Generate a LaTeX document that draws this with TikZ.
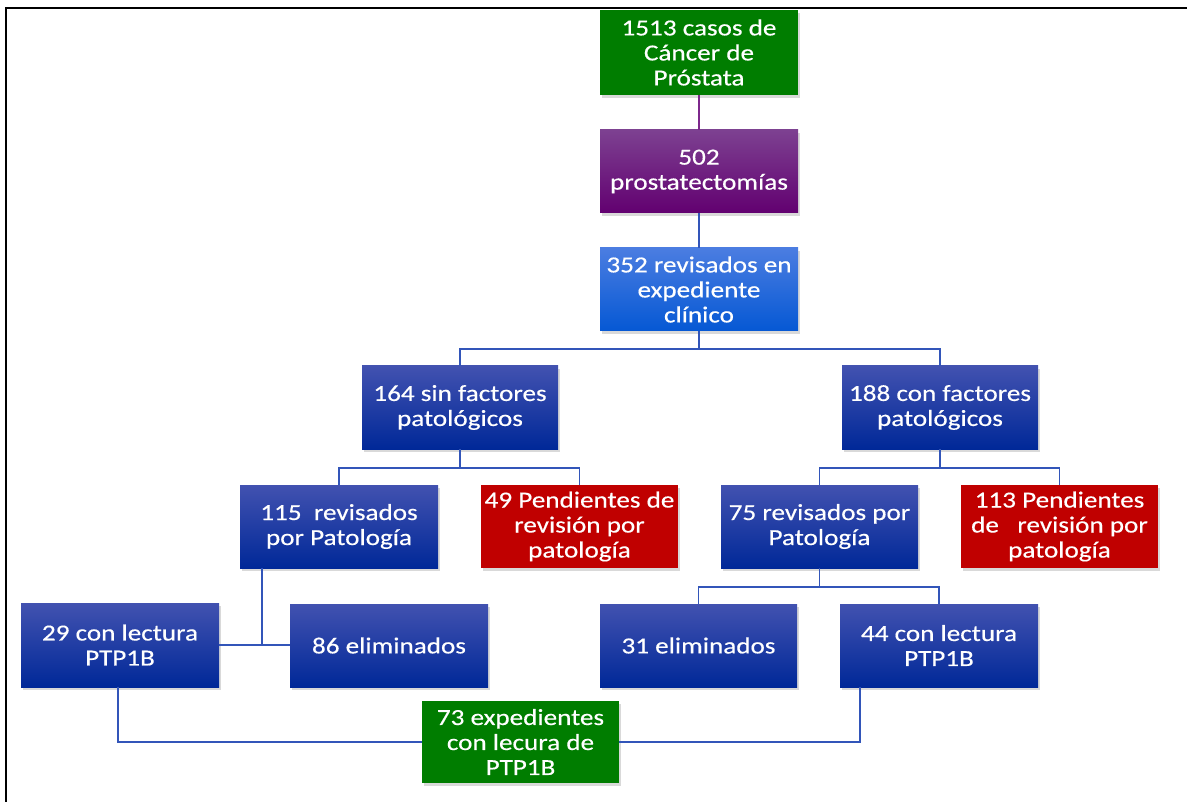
\documentclass[tikz,border=0pt]{standalone}
\usepackage{fontspec}
\newfontfamily\boxfont{Carlito}[FakeStretch=1.18, FakeBold=0.4]
\usetikzlibrary{shadows}
\definecolor{grn}{RGB}{0,125,0}
\definecolor{redbox}{RGB}{192,0,0}
\definecolor{purtop}{RGB}{125,65,145}
\definecolor{purbot}{RGB}{98,0,112}
\definecolor{ltop}{RGB}{75,125,225}
\definecolor{lbot}{RGB}{5,88,212}
\definecolor{dtop}{RGB}{66,82,176}
\definecolor{dmid}{RGB}{12,42,160}
\definecolor{dbot}{RGB}{0,40,152}
\definecolor{conn}{RGB}{50,85,185}
\definecolor{connp}{RGB}{125,40,140}
\tikzset{
  box/.style={minimum width=198pt, minimum height=83pt, inner sep=0pt, align=center,
    text=white, font=\boxfont\fontsize{23}{25}\selectfont,
    drop shadow={opacity=0.3, shadow xshift=2pt, shadow yshift=-3pt}},
  greenbox/.style={box, fill=grn},
  redb/.style={box, fill=redbox},
  purbox/.style={box, top color=purtop, bottom color=purbot},
  lightbox/.style={box, top color=ltop, bottom color=lbot},
  darkbox/.style={box, top color=dtop, middle color=dmid, bottom color=dbot},
  link/.style={draw=conn, line width=1.5pt},
}
\begin{document}
\begin{tikzpicture}[x=1pt,y=-1pt]
\useasboundingbox (0,0) rectangle (1187,802);
\draw[line width=2.5pt, line cap=rect] (6,802) -- (6,8) -- (1187,8);

\node[greenbox, minimum height=85pt] (b1) at (699,52.5) {1513 casos de\\Cáncer de\\Próstata};
\node[purbox] (b2) at (699,171.5) {502\\prostatectomías};
\node[lightbox] (b3) at (699,289.5) {352 revisados en\\expediente\\clínico};
\node[darkbox, minimum width=196pt] (b4) at (460,407.5) {164 sin factores\\patológicos};
\node[darkbox, minimum width=196pt] (b5) at (940,407.5) {188 con factores\\patológicos};
\node[darkbox] (b6) at (339,526.5) {115\ \ revisados\\por Patología};
\node[redb, minimum width=197pt] (b7) at (579.5,526.5) {49 Pendientes de\\revisión por\\patología};
\node[darkbox, minimum width=197pt] (b8) at (819.5,526.5) {75 revisados por\\Patología};
\node[redb, minimum width=197pt] (b9) at (1059.5,526.5) {113 Pendientes\\de\ \ \ revisión por\\patología};
\node[darkbox, minimum height=84pt] (b10) at (120,645) {29 con lectura\\PTP1B};
\node[darkbox] (b11) at (389,645.5) {86 eliminados};
\node[darkbox, minimum width=197pt] (b12) at (698.5,645.5) {31 eliminados};
\node[darkbox] (b13) at (939,645.5) {44 con lectura\\PTP1B};
\node[greenbox, minimum width=197pt, minimum height=82pt] (b14) at (520.5,742) {73 expedientes\\con lecura de\\PTP1B};

\coordinate (j3) at (699,349);
\coordinate (j4) at (460,468);
\coordinate (j5) at (940,468);
\coordinate (j6) at (262,645);
\coordinate (j8) at (819.5,587);
\coordinate (j10) at (118,742);
\coordinate (j13) at (860,742);

\draw[draw=connp, line width=1.5pt] (b1.south) -- (b2.north);
\draw[link] (b2.south) -- (b3.north);
\draw[link] (b3.south) -- (j3) -| (b4.north);
\draw[link] (j3) -| (b5.north);
\draw[link] (b4.south) -- (j4) -| (b6.north);
\draw[link] (j4) -| (b7.north);
\draw[link] (b5.south) -- (j5) -| (b8.north);
\draw[link] (j5) -| (b9.north);
\draw[link] (b6.south -| j6) -- (j6) -- (b10.east |- j6);
\draw[link] (j6) -- (b11.west |- j6);
\draw[link] (b8.south) -- (j8) -| (b12.north);
\draw[link] (j8) -| (b13.north);
\draw[link] (b10.south -| j10) -- (j10) -- (b14.west |- j10);
\draw[link] (b13.south -| j13) -- (j13) -- (b14.east |- j13);
\end{tikzpicture}
\end{document}
